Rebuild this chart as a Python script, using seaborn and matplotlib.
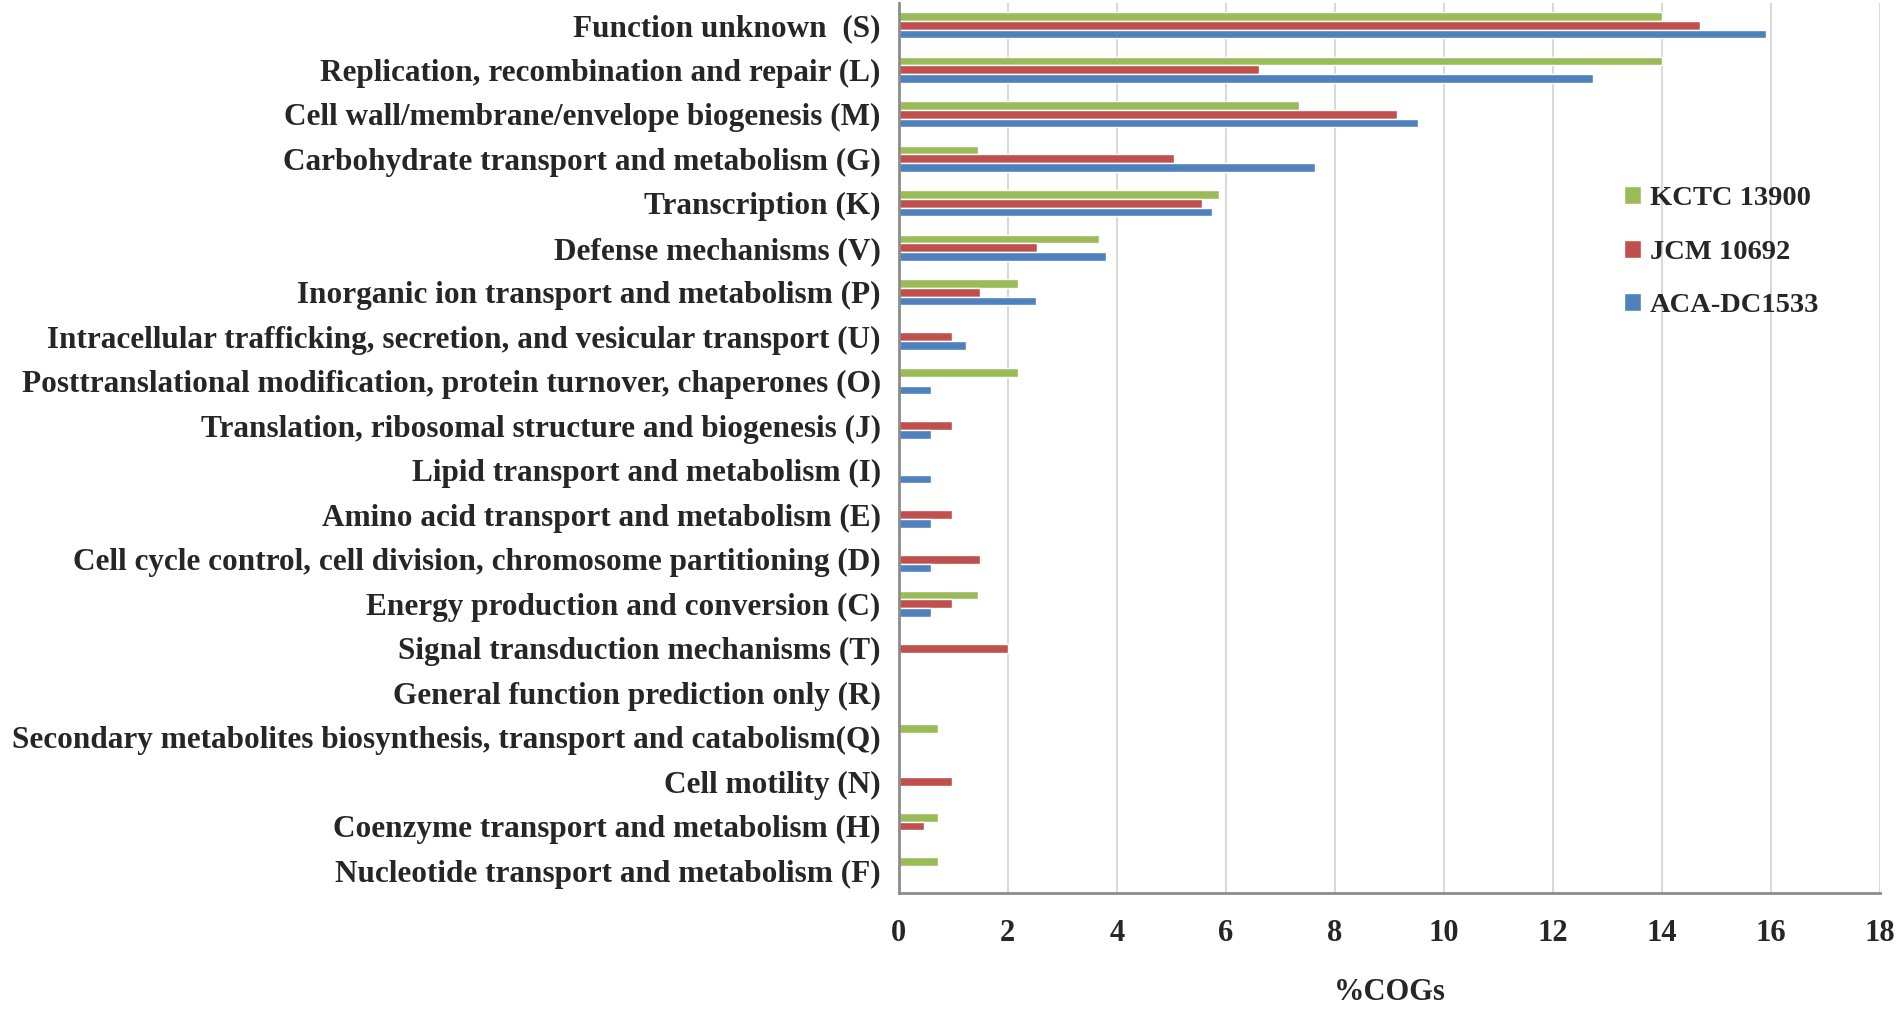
"""
COG functional category distribution for three strains.
"""

import matplotlib

matplotlib.use("Agg")
import matplotlib.pyplot as plt
import pandas as pd
import seaborn as sns

categories = [
    "Function unknown  (S)",
    "Replication, recombination and repair (L)",
    "Cell wall/membrane/envelope biogenesis (M)",
    "Carbohydrate transport and metabolism (G)",
    "Transcription (K)",
    "Defense mechanisms (V)",
    "Inorganic ion transport and metabolism (P)",
    "Intracellular trafficking, secretion, and vesicular transport (U)",
    "Posttranslational modification, protein turnover, chaperones (O)",
    "Translation, ribosomal structure and biogenesis (J)",
    "Lipid transport and metabolism (I)",
    "Amino acid transport and metabolism (E)",
    "Cell cycle control, cell division, chromosome partitioning (D)",
    "Energy production and conversion (C)",
    "Signal transduction mechanisms (T)",
    "General function prediction only (R)",
    "Secondary metabolites biosynthesis, transport and catabolism(Q)",
    "Cell motility (N)",
    "Coenzyme transport and metabolism (H)",
    "Nucleotide transport and metabolism (F)",
]

strains = ["KCTC 13900", "JCM 10692", "ACA-DC1533"]

kctc_13900 = [14.0, 14.0, 7.34, 1.46, 5.87, 3.67, 2.18, 0, 2.18, 0,
              0, 0, 0, 1.46, 0, 0, 0.73, 0, 0.73, 0.73]
jcm_10692 = [14.7, 6.6, 9.14, 5.05, 5.56, 2.54, 1.5, 0.98, 0, 0.98,
             0, 0.98, 1.5, 0.98, 2.0, 0, 0, 0.98, 0.47, 0]
aca_dc1533 = [15.9, 12.73, 9.53, 7.63, 5.74, 3.8, 2.52, 1.24, 0.59, 0.59,
              0.59, 0.59, 0.59, 0.59, 0, 0, 0, 0, 0, 0]

colors = {"KCTC 13900": "#9BBB59", "JCM 10692": "#C0504D", "ACA-DC1533": "#4F81BD"}


def build_frame() -> pd.DataFrame:
    rows = []
    for strain, values in zip(strains, [kctc_13900, jcm_10692, aca_dc1533]):
        for cat, val in zip(categories, values):
            rows.append({"category": cat, "strain": strain, "pct": val})
    return pd.DataFrame(rows)


def main() -> None:
    df = build_frame()
    sns.set_style("white")
    plt.rcParams["font.family"] = ["Liberation Serif", "DejaVu Serif"]
    plt.rcParams["font.weight"] = "bold"

    fig = plt.figure(figsize=(19, 10.1), dpi=100)
    ax = fig.add_axes([0.473, 0.116, 0.5165, 0.881])

    sns.barplot(
        data=df,
        y="category",
        x="pct",
        hue="strain",
        hue_order=strains,
        order=categories,
        palette=colors,
        orient="h",
        width=0.59,
        saturation=1,
        ax=ax,
    )

    ax.set_xlim(0, 18)
    ax.set_ylim(len(categories) - 0.5, -0.5)
    ax.set_xticks(range(0, 19, 2))
    ax.xaxis.grid(True, color="#D9D9D9", linewidth=1.5)
    ax.set_axisbelow(True)
    for side in ["top", "right"]:
        ax.spines[side].set_visible(False)
    ax.spines["left"].set_color("#8C8C8C")
    ax.spines["left"].set_linewidth(2)
    ax.spines["bottom"].set_color("#8C8C8C")
    ax.spines["bottom"].set_linewidth(2)
    ax.tick_params(axis="y", length=0, pad=13, labelsize=22.5)
    ax.tick_params(axis="x", length=0, pad=18.5, labelsize=22)
    for lbl in ax.get_yticklabels() + ax.get_xticklabels():
        lbl.set_fontweight("bold")

    ax.set_ylabel("")
    ax.set_xlabel("%COGs", fontsize=22, fontweight="bold", labelpad=22)

    leg = ax.legend(
        loc="center left",
        bbox_to_anchor=(0.713, 0.72),
        frameon=False,
        fontsize=20.5,
        handlelength=0.6,
        handleheight=0.6,
        handletextpad=0.3,
        labelspacing=1.0,
    )
    for txt in leg.get_texts():
        txt.set_fontweight("bold")

    fig.savefig("out.png", dpi=100)
    plt.close(fig)


if __name__ == "__main__":
    main()
